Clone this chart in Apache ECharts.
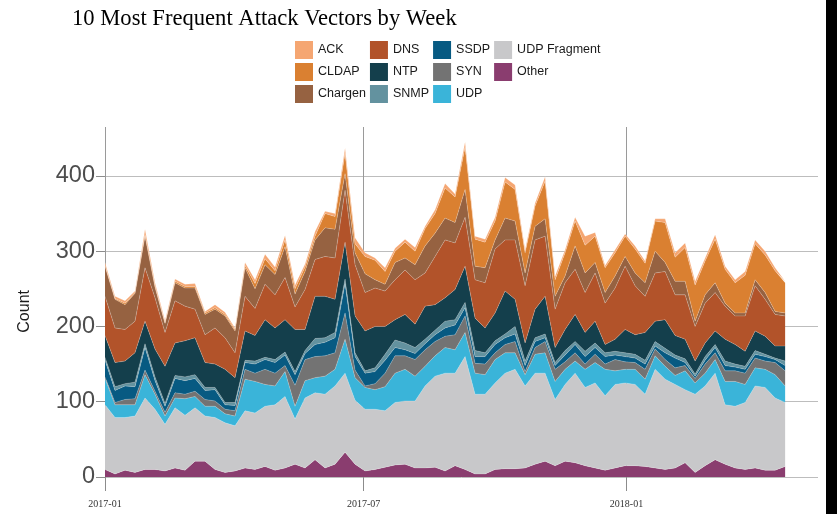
<!DOCTYPE html>
<html>
<head>
<meta charset="utf-8">
<script src="https://cdn.jsdelivr.net/npm/echarts@6/dist/echarts.min.js"></script>
<style>
html,body{margin:0;padding:0;background:#fff;}
#chart{width:837px;height:514px;}
</style>
</head>
<body>
<div id="chart"></div>
<script>
var weeks = ['2017-01-01','2017-01-08','2017-01-15','2017-01-22','2017-01-29','2017-02-05','2017-02-12','2017-02-19','2017-02-26',
'2017-03-05','2017-03-12','2017-03-19','2017-03-26','2017-04-02','2017-04-09','2017-04-16','2017-04-23','2017-04-30',
'2017-05-07','2017-05-14','2017-05-21','2017-05-28','2017-06-04','2017-06-11','2017-06-18','2017-06-25',
'2017-07-02','2017-07-09','2017-07-16','2017-07-23','2017-07-30','2017-08-06','2017-08-13','2017-08-20','2017-08-27',
'2017-09-03','2017-09-10','2017-09-17','2017-09-24','2017-10-01','2017-10-08','2017-10-15','2017-10-22','2017-10-29',
'2017-11-05','2017-11-12','2017-11-19','2017-11-26','2017-12-03','2017-12-10','2017-12-17','2017-12-24','2017-12-31',
'2018-01-07','2018-01-14','2018-01-21','2018-01-28','2018-02-04','2018-02-11','2018-02-18','2018-02-25',
'2018-03-04','2018-03-11','2018-03-18','2018-03-25','2018-04-01','2018-04-08','2018-04-15','2018-04-22'];

var other = [10,4,9,6,10,10,8,12,9,21, 21,10,6,8,12,10,14,9,12,17, 12,23,12,17,33,17,8,10,13,16, 17,12,12,13,8,15,10,4,4,10, 11,11,12,17,21,15,21,19,15,12, 9,12,15,15,14,12,10,12,19,6, 15,23,17,12,10,12,9,9,14];
var udpFragment = [86,75,70,75,95,80,62,80,73,71, 60,69,66,60,76,75,80,87,95,60, 93,89,98,104,105,85,82,80,75,83, 84,89,109,121,130,123,150,106,106,115, 127,132,109,121,117,88,102,119,104,113, 99,111,110,108,96,131,120,111,97,104, 106,115,79,82,89,109,110,96,85];
var udp = [35,17,17,15,31,20,11,13,22,15, 13,15,12,13,42,42,29,25,33,17, 23,20,24,22,45,30,29,26,32,39, 42,33,26,27,34,31,32,28,26,31, 27,22,15,25,27,24,20,16,24,27, 35,18,18,20,20,18,17,12,25,15, 17,18,31,33,24,24,24,31,22];
var syn = [2,3,7,8,6,4,5,7,6,7, 9,7,6,7,13,11,20,17,8,28, 28,28,27,22,35,10,2,8,18,23, 18,22,22,19,15,20,22,13,14,9, 11,15,4,9,15,16,10,11,7,11, 7,15,10,9,13,9,9,10,7,6, 12,9,14,14,15,13,11,16,20];
var ssdp = [22,16,18,16,30,14,8,19,18,17, 12,15,6,7,9,12,13,14,14,14, 8,16,18,20,39,18,17,16,17,11, 8,8,8,9,11,13,11,9,10,11, 9,10,8,8,5,5,9,11,10,9, 10,6,7,6,7,4,9,13,4,3, 5,7,7,5,5,5,6,4,7];
var snmp = [4,5,3,6,5,5,4,4,5,5, 4,3,3,4,3,4,3,4,4,4, 4,8,6,7,6,5,3,5,8,10, 9,8,6,6,9,7,7,8,5,5, 5,10,6,5,5,4,6,4,7,6, 5,5,5,5,5,6,6,4,5,3, 5,4,6,4,4,5,3,2,6];
var ntp = [29,32,30,39,30,37,49,43,48,49, 33,31,44,33,39,34,50,42,43,56, 28,56,55,44,49,49,53,55,37,27, 38,31,44,34,31,40,48,43,33,37, 57,36,24,38,50,20,28,36,25,29, 11,16,31,26,37,27,38,26,26,17, 18,18,29,26,20,26,24,16,20];
var dns = [52,46,42,42,71,68,45,56,46,38, 37,48,42,33,46,36,47,44,56,30, 53,49,53,55,69,68,51,51,47,53, 59,59,44,64,77,62,65,51,60,85, 68,79,76,92,80,51,62,60,53,64, 55,68,84,65,48,64,64,54,59,46, 53,51,44,38,47,60,49,42,40];
var chargen = [40,38,33,37,42,14,12,24,24,28, 27,25,29,29,38,26,26,27,41,17, 24,26,38,38,22,16,25,11,9,23, 16,20,36,31,29,27,37,18,20,12, 29,25,17,18,23,17,9,31,26,14, 14,16,13,17,18,29,12,18,18,7, 11,13,4,4,4,8,9,4,4];
var cldap = [1,1,2,1,2,2,1,2,2,2, 2,2,2,2,3,7,8,5,9,7, 6,5,19,17,27,12,23,26,17,15, 21,18,23,26,40,34,56,36,34,25, 48,42,27,27,50,22,31,33,37,35, 33,31,27,32,26,40,53,32,45,48, 45,58,45,40,50,48,50,54,40];
var ack = [4,3,3,2,7,4,3,3,3,4, 2,4,3,2,4,5,6,5,6,5, 4,6,3,4,7,8,5,3,5,4, 4,5,3,5,6,4,7,4,4,5, 6,6,4,4,6,5,4,5,12,5, 3,4,3,4,3,3,5,6,6,5, 4,6,4,4,5,5,5,4,2];

var legendOrder = ['ACK','CLDAP','Chargen','DNS','NTP','SNMP','SSDP','SYN','UDP','UDP Fragment','Other'];
var yTicks = [0,100,200,300,400];
var xTickDates = ['2017-01-01','2017-07-01','2018-01-01'];
var xRange = ['2017-01-01','2018-05-15'];

function ts(d){ return Date.parse(d + 'T00:00:00Z'); }

// bottom-to-top stacking order
var seriesDefs = [
  {name:'Other', data: other, color:'#8a3d6f'},
  {name:'UDP Fragment', data: udpFragment, color:'#c8c8ca'},
  {name:'UDP', data: udp, color:'#3ab4d9'},
  {name:'SYN', data: syn, color:'#737373'},
  {name:'SSDP', data: ssdp, color:'#075a82'},
  {name:'SNMP', data: snmp, color:'#63929f'},
  {name:'NTP', data: ntp, color:'#143f4c'},
  {name:'DNS', data: dns, color:'#b2532a'},
  {name:'Chargen', data: chargen, color:'#966241'},
  {name:'CLDAP', data: cldap, color:'#da8031'},
  {name:'ACK', data: ack, color:'#f5a672'}
];

var chart = echarts.init(document.getElementById('chart'), null, {renderer:'canvas'});

var xTickVals = xTickDates.map(ts);

var option = {
  backgroundColor:'#ffffff',
  animation:false,
  title:{
    text:'10 Most Frequent Attack Vectors by Week',
    left:67, top:3,
    textStyle:{fontFamily:'Liberation Serif', fontSize:22.6, fontWeight:'normal', color:'#000'}
  },
  legend:{
    orient:'vertical', left:295, top:41, height:62, padding:0,
    itemWidth:18, itemHeight:18, itemGap:4, icon:'rect',
    itemStyle:{borderWidth:0},
    textStyle:{fontFamily:'Liberation Sans', fontSize:12.5, color:'#1a1a1a'},
    selectedMode:false,
    data:legendOrder
  },
  grid:{left:105, right:19, top:127, bottom:37, containLabel:false},
  xAxis:{
    type:'value',
    min:ts(xRange[0]), max:ts(xRange[1]),
    axisLine:{show:false},
    axisTick:{show:true, length:14, customValues:xTickVals, lineStyle:{color:'#8c8c8c', width:1}},
    axisLabel:{
      customValues:xTickVals, margin:22,
      fontFamily:'Liberation Serif', fontSize:10, color:'#333',
      formatter:function(v){ var d=new Date(v); var m=d.getUTCMonth()+1; return d.getUTCFullYear()+'-'+(m<10?'0'+m:m); }
    },
    splitLine:{show:true, lineStyle:{color:'#9a9a9a', width:1}}
  },
  yAxis:{
    type:'value', min:0, max:465,
    axisLine:{show:false},
    axisTick:{show:true, length:9, customValues:yTicks, lineStyle:{color:'#8c8c8c'}},
    axisLabel:{customValues:yTicks, fontFamily:'Liberation Sans', fontSize:23.5, color:'#4d4d4d', margin:10},
    splitLine:{show:true, lineStyle:{color:'#bdbdbd', width:1}}
  },
  graphic:[
    {type:'text', left:17, top:290, rotation:Math.PI/2, style:{text:'Count', font:'16px "Liberation Sans"', fill:'#1a1a1a'}},
    {type:'rect', shape:{x:826, y:0, width:11, height:514}, style:{fill:'#000'}, z:100}
  ],
  series: seriesDefs.map(function(s){
    return {
      name:s.name, type:'line', stack:'total',
      // value first so that the stacked dimension is the count, date second
      dimensions:[{name:'count', type:'float'}, {name:'week', type:'float'}],
      encode:{x:1, y:0},
      data: weeks.map(function(w,i){ return [s.data[i], ts(w)]; }),
      showSymbol:false, symbol:'none',
      itemStyle:{color:s.color},
      lineStyle:{width:0.6, color:'rgba(255,255,255,0.35)'},
      areaStyle:{color:s.color, opacity:1}
    };
  })
};
chart.setOption(option);
</script>
</body>
</html>
